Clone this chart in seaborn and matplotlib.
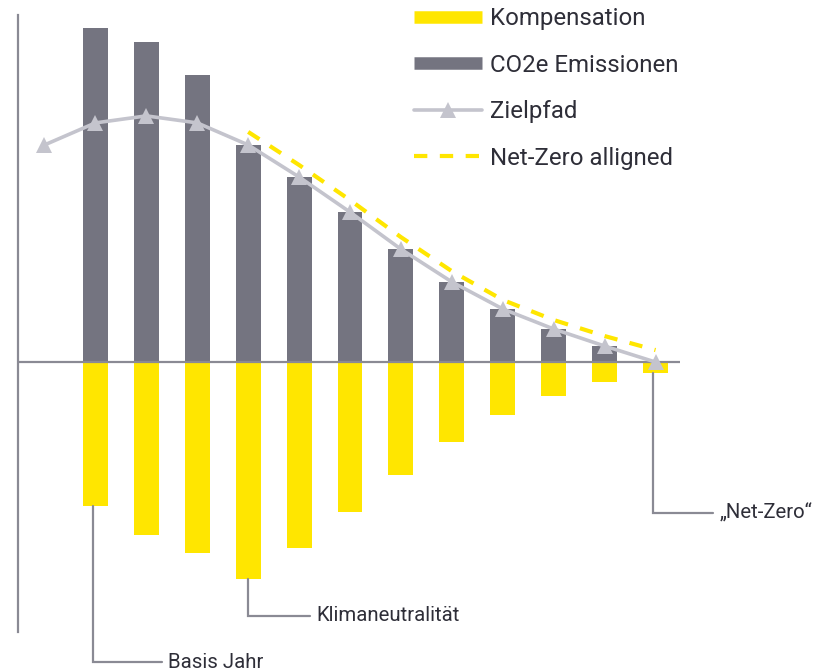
import matplotlib
matplotlib.use("Agg")
import matplotlib.pyplot as plt
from matplotlib.lines import Line2D
import seaborn as sns
import pandas as pd
import numpy as np

# ---- data ----
jahre = list(range(13))                      # Zeitpunkte (0 = vor Basisjahr)
emissionen = [np.nan, 100.0, 95.8, 85.9, 65.0, 55.4, 44.9, 33.8, 24.0, 15.9, 9.9, 4.8, 0.0]
kompensation = [np.nan, -43.1, -51.8, -57.2, -65.0, -55.7, -44.9, -33.8, -24.0, -15.9, -10.2, -6.0, -3.3]
zielpfad = [65.0, 71.6, 73.7, 71.6, 65.0, 55.4, 44.9, 33.8, 24.0, 15.9, 9.9, 4.8, 0.0]
net_zero = [np.nan, np.nan, np.nan, np.nan, 68.9, 59.0, 48.5, 37.4, 27.2, 18.6, 12.6, 7.8, 3.6]

labels_legende = ["Kompensation", "CO2e Emissionen", "Zielpfad", "Net-Zero alligned"]
annotationen = [(1, "Basis Jahr"), (4, "Klimaneutralität"), (12, "\u201eNet-Zero\u201c")]

# ---- style ----
YELLOW = "#FFE600"
DARKGRAY = "#747480"
LIGHTGRAY = "#C4C4CD"
AXGRAY = "#8A8A94"
TEXT = "#2E2E38"

sns.set_style("white")
plt.rcParams["font.family"] = ["Roboto", "DejaVu Sans"]

df = pd.DataFrame({"jahr": jahre, "emissionen": emissionen, "kompensation": kompensation,
                   "zielpfad": zielpfad, "net_zero": net_zero})

fig = plt.figure(figsize=(8.35, 6.7), dpi=100)
W, H = 835, 670
ax = fig.add_axes([18 / W, (H - 632) / H, (680 - 18) / W, (632 - 15) / H])

dfb = df.dropna(subset=["emissionen"])
sns.barplot(data=dfb, x="jahr", y="emissionen", native_scale=True, width=0.49,
            color=DARKGRAY, saturation=1, ax=ax, linewidth=0, zorder=2)
sns.barplot(data=dfb, x="jahr", y="kompensation", native_scale=True, width=0.49,
            color=YELLOW, saturation=1, ax=ax, linewidth=0, zorder=2)

ax.axhline(0, color=AXGRAY, lw=1.6, zorder=3)

sns.lineplot(data=df, x="jahr", y="net_zero", color=YELLOW, lw=3.0,
             linestyle=(0, (3.2, 3.0)), ax=ax, zorder=4)
sns.lineplot(data=df, x="jahr", y="zielpfad", color=LIGHTGRAY, lw=2.6,
             marker="^", markersize=12, markeredgewidth=0, markerfacecolor=LIGHTGRAY,
             ax=ax, zorder=5)

ax.set_xlim(-0.52, 12.48)
ax.set_ylim(-80.8, 103.9)
ax.set_xlabel("")
ax.set_ylabel("")
ax.set_xticks([])
ax.set_yticks([])
for s in ["top", "right", "bottom"]:
    ax.spines[s].set_visible(False)
ax.spines["left"].set_color(AXGRAY)
ax.spines["left"].set_linewidth(1.6)

# ---- annotations ----
ann_pos = {1: (-89.8, -0.05, 1.36), 4: (-76.0, 0.0, 1.21), 12: (-45.2, -0.05, 1.18)}
for idx, txt in annotationen:
    y_end, off, dx = ann_pos[idx]
    x0 = idx + off
    y0 = kompensation[idx]
    ax.plot([x0, x0, x0 + dx], [y0, y_end, y_end], color=AXGRAY, lw=1.6,
            clip_on=False, zorder=3, solid_joinstyle="miter")
    ax.text(x0 + dx + 0.12, y_end, txt, ha="left", va="center", fontsize=14.7,
            color=TEXT, clip_on=False)

# ---- legend ----
handles = [
    Line2D([0], [0], color=YELLOW, lw=9, solid_capstyle="butt"),
    Line2D([0], [0], color=DARKGRAY, lw=9, solid_capstyle="butt"),
    Line2D([0], [0], color=LIGHTGRAY, lw=2.6, marker="^", markersize=12, markeredgewidth=0),
    Line2D([0], [0], color=YELLOW, lw=3.0, linestyle=(0, (3.2, 3.0))),
]
leg = fig.legend(handles, labels_legende, loc="upper left",
                 bbox_to_anchor=(414 / W, 1 - 7 / H), frameon=False, fontsize=17.3,
                 handlelength=2.85, handletextpad=0.3, labelspacing=0.98, borderpad=0,
                 borderaxespad=0)
for t in leg.get_texts():
    t.set_color(TEXT)

fig.savefig("out.png", dpi=100)
